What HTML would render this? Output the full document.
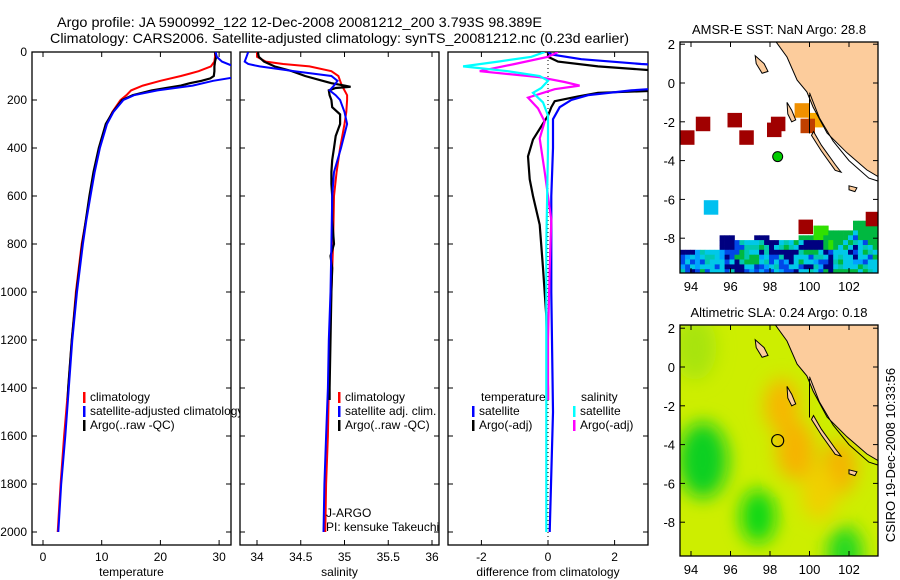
<!DOCTYPE html>
<html><head><meta charset="utf-8"><style>
html,body{margin:0;padding:0;background:#fff;}
svg{display:block;font-family:"Liberation Sans",sans-serif;}
</style></head><body>
<svg id="fig" width="900" height="580" viewBox="0 0 900 580" xmlns="http://www.w3.org/2000/svg">
<defs>
<clipPath id="c1"><rect x="32" y="52" width="199" height="493"/></clipPath>
<clipPath id="c2"><rect x="240" y="52" width="199" height="493"/></clipPath>
<clipPath id="c3"><rect x="448" y="52" width="200" height="493"/></clipPath>
<clipPath id="cm1"><rect x="680" y="42" width="198" height="231"/></clipPath>
<clipPath id="cm2"><rect x="680" y="325" width="198" height="231"/></clipPath>
<filter id="blur" x="-50%" y="-50%" width="200%" height="200%"><feGaussianBlur stdDeviation="9"/></filter>
</defs>
<rect width="900" height="580" fill="#fff"/>
<text x="57" y="27" font-size="14" textLength="485" lengthAdjust="spacingAndGlyphs">Argo profile: JA 5900992_122 12-Dec-2008 20081212_200 3.793S 98.389E</text>
<text x="50" y="43" font-size="14" textLength="579" lengthAdjust="spacingAndGlyphs">Climatology: CARS2006. Satellite-adjusted climatology: synTS_20081212.nc (0.23d earlier)</text>
<g id="plots"></g>
<g id="maps"></g>
<text transform="translate(895,455) rotate(-90)" font-size="13" text-anchor="middle">CSIRO 19-Dec-2008 10:33:56</text>
</svg>
<script>
// ---- temperature panel data ----
const tDepth = [0,20,40,60,80,90,100,120,140,160,180,200,250,300,400,500,600,700,800,1000,1200,1400,1600,1800,2000];
const tClim  = [29.3,29.3,29.2,28.6,26.5,25,23.5,20,17,15,14.2,13.2,11.8,10.8,9.6,8.7,8.0,7.3,6.6,5.6,4.9,4.3,3.6,3.0,2.5];
const tSat   = [29.4,29.6,30.5,32.5,34,34.5,34,29,25.5,19.5,15.5,13.7,12,10.9,9.7,8.8,8.1,7.4,6.8,5.8,5.0,4.4,3.8,3.1,2.6];
const aDepth = [0,20,40,60,80,100,110,120,130,140,150,160,180,200,250,300,400,500,600,700,800,1000,1200,1400,1450];
const tArgo  = [29.3,29.5,29.3,29.2,29.2,29.1,28.5,27,25,23.5,21,18.5,15.3,13.5,11.9,10.7,9.5,8.6,7.9,7.3,6.7,5.7,4.9,4.3,4.2];
// ---- salinity panel data ----
const sDepth = [0,20,40,50,60,80,100,120,140,160,180,200,250,300,400,500,600,800,1000,1200,1400,1600,1800,2000];
const sClim  = [34.0,34.0,34.1,34.3,34.6,34.85,34.93,34.95,34.97,35.0,35.03,35.03,35.02,35.0,34.95,34.91,34.88,34.87,34.85,34.83,34.82,34.81,34.79,34.78];
const sSat   = [33.9,33.88,33.86,33.9,34.03,34.43,34.85,34.92,34.88,34.83,34.9,34.95,35.0,35.03,34.96,34.88,34.86,34.85,34.84,34.82,34.81,34.79,34.77,34.76];
const saDepth = [0,20,40,60,80,100,120,130,140,145,150,160,180,200,230,260,300,350,400,450,500,550,600,700,800,850,900,1000,1200,1400,1450];
const sArgo   = [34.01,34.02,34.08,34.2,34.4,34.55,34.75,34.85,35.0,35.07,34.9,34.82,34.83,34.85,34.86,34.95,34.95,34.9,34.88,34.86,34.85,34.85,34.86,34.86,34.88,34.84,34.86,34.85,34.84,34.83,34.83];
// ---- difference panel data ----
const dtsDepth = [0,10,30,50,55,150,160,180,200,230,280,400,600,1000,1500,2000];
const dtSat    = [0,0.1,1,2.8,3.5,3.5,2.5,1.2,0.7,0.35,0.15,0.15,0.1,0.1,0.15,0.05];
const dtaDepth = [0,20,40,60,75,80,160,170,185,205,230,265,365,435,530,600,720,900,1100,1400,1450];
const dtArgo   = [0,0,0.3,1.5,3,3.5,3.5,1.5,0.9,0.2,0.1,0,-0.45,-0.6,-0.55,-0.45,-0.25,-0.15,-0.05,0,0];
const dssDepth = [0,20,40,60,80,100,120,150,170,210,265,400,800,1200,1600,2000];
const dsSat    = [-0.1,-0.5,-1.5,-2.55,-1.2,-0.25,0,-0.2,-0.45,-0.15,0,0,-0.05,-0.05,-0.05,-0.05];
const dsaDepth = [0,20,50,80,105,125,140,155,190,235,290,360,500,700,900,1200,1450];
const dsArgo   = [0.3,0,-1.0,-2.05,-0.25,0.5,0.95,0.2,-0.6,-0.3,-0.1,-0.25,-0.1,0.1,0.05,0,0];
// ---- tick labels ----
const depthTicks = [0,200,400,600,800,1000,1200,1400,1600,1800,2000];
const tempTicks = [0,10,20,30];
const salTicks = [34,34.5,35,35.5,36];
const salTickLabels = ["34","34.5","35","35.5","36"];
const diffTicks = [-2,0,2];
const lonTicks = [94,96,98,100,102];
const latTicks = [2,0,-2,-4,-6,-8];
// ---- map data ----
const landLon = [98.25,98.86,99.37,99.87,100.18,100.89,101.9,102.9,103.6,103.6];
const landLat = [2.2,1.34,0.15,-0.46,-1.24,-2.58,-3.6,-4.48,-4.9,2.2];
const shelfLon = [100.0,100.5,101.2,102.0,103.0,103.6];
const shelfLat = [-0.5,-1.8,-3.0,-4.0,-4.9,-5.1];
const islands = [
 [[97.25,1.4],[97.7,1.0],[97.9,0.6],[97.6,0.5],[97.3,1.0]],
 [[98.86,-1.0],[99.1,-1.4],[99.3,-1.9],[99.1,-2.0],[98.9,-1.6]],
 [[100.2,-2.5],[100.6,-3.2],[101.3,-4.2],[101.6,-4.6],[101.3,-4.5],[100.6,-3.5],[100.1,-2.7]],
 [[102.0,-5.3],[102.4,-5.4],[102.3,-5.6],[102.0,-5.5]]
];
const sstLon = [93.8,94.6,96.2,96.8,98.2,98.4,99.6,100.3,99.9,95.0,99.8,103.2];
const sstLat = [-2.8,-2.1,-1.9,-2.8,-2.4,-2.1,-1.4,-1.9,-2.2,-6.4,-7.4,-7.0];
const sstCol = ["#a00000","#a00000","#a00000","#a00000","#a00000","#a00000","#f09000","#f8a800","#c04000","#00c0f0","#a00000","#a00000"];
const bandRows = [
"...................................ggggg",
"...........................GGG.....ggggg",
"...........................GGGgggggcgggg",
"........nnn....nnn......gggGGgggggcbgggg",
"........nnnbtccctnnnctcgcnnnngGggcgtcbgg",
"........nnnbbtttgtnctgtcnnnnngGgcgcnctcg",
"nnnltccclbbbgtccntnnnnnntgggcnbcccnbcgtc",
"blclcttclnbggtgglcbbtnncccbttcnctccnccbg",
"bcblbtcccbcntgggctbcblncgcclbbntgccllbcc",
"lbclcccbcnnnnccrblctbbccbnntlnnctcccgtcc",
"tbnbgbcccbtnnblblbbclbbncctcbgngggggcgtc"
];
const bandLat0 = -7.1, bandStep = 0.25, bandLon0 = 93.45, bandLonStep = 0.25;
const slaBlobLon = [94.6,97.4,101.8,94.2,98.6,99.3,101.5,100.5];
const slaBlobLat = [-4.8,-7.7,-9.6,1.0,-2.0,-4.3,-5.2,-6.5];
const slaBlobR   = [1.4,1.0,1.0,1.2,1.0,1.1,1.0,1.0];
const slaBlobCol = ["#10d020","#10d818","#20d820","#a8e410","#f6b800","#f6b400","#f4b400","#f0d000"];
const argoLon = 98.389, argoLat = -3.793;

const NS="http://www.w3.org/2000/svg";
function mk(tag, attrs, parent){const e=document.createElementNS(NS,tag);for(const k in attrs)e.setAttribute(k,attrs[k]);parent.appendChild(e);return e;}
const plots=document.getElementById('plots');
const yD = d => 52 + d*0.24;
const xT = v => 43 + v*5.87;
const xS = v => 257 + (v-34)*87.5;
const xDf = v => 548 + v*33.3;

function axisBox(x0,w,name,xticks,xfn,labels,xtitle){
  const g=mk('g',{},plots);
  
  
  mk('rect',{x:x0,y:52,width:w,height:493,fill:'#fff',stroke:'#000','stroke-width':1.3},g);
  depthTicks.forEach(d=>{
    mk('line',{x1:x0,x2:x0+5,y1:yD(d),y2:yD(d),stroke:'#000'},g);
    mk('line',{x1:x0+w-5,x2:x0+w,y1:yD(d),y2:yD(d),stroke:'#000'},g);
  });
  xticks.forEach((v,i)=>{
    const x=xfn(v);
    mk('line',{x1:x,x2:x,y1:545,y2:540,stroke:'#000'},g);
    mk('line',{x1:x,x2:x,y1:52,y2:57,stroke:'#000'},g);
    const t=mk('text',{x:x,y:561,'font-size':12,'text-anchor':'middle'},g);
    
    
    t.textContent=labels[i];
  });
  const tt=mk('text',{x:x0+w/2,y:576,'font-size':12,'text-anchor':'middle'},g);
  
  
  tt.textContent=xtitle;
  return g;
}
function line(depths,vals,xfn,color,clip,name,w){
  const pts=depths.map((d,i)=>xfn(vals[i]).toFixed(1)+','+yD(d).toFixed(1)).join(' ');
  const p=mk('polyline',{points:pts,fill:'none',stroke:color,'stroke-width':w||2,'clip-path':'url(#'+clip+')'},plots);
  
  
}
function legend(x,y,color,label,name){
  mk('rect',{x:x,y:y-9,width:2.5,height:11,fill:color},plots);
  const t=mk('text',{x:x+7,y:y,'font-size':12},plots);
  
  
  t.textContent=label;
}

// panel 1
axisBox(32,199,'temperature',tempTicks,xT,tempTicks.map(String),'temperature');
depthTicks.forEach(d=>{
  const t=mk('text',{x:27,y:yD(d)+4,'font-size':12,'text-anchor':'end'},plots);
  
  
  t.textContent=String(d);
});
line(tDepth,tClim,xT,'#ff0000','c1','temp-climatology-line');
line(aDepth,tArgo,xT,'#000','c1','temp-argo-line',2.2);
line(tDepth,tSat,xT,'#0000ff','c1','temp-satellite-line');
legend(83,401,'#ff0000','climatology','temp-legend-climatology');
legend(83,415,'#0000ff','satellite-adjusted climatology','temp-legend-satellite');
legend(83,429,'#000','Argo(..raw -QC)','temp-legend-argo');

// panel 2
axisBox(240,199,'salinity',salTicks,xS,salTickLabels,'salinity');
line(sDepth,sClim,xS,'#ff0000','c2','sal-climatology-line');
line(saDepth,sArgo,xS,'#000','c2','sal-argo-line',2.2);
line(sDepth,sSat,xS,'#0000ff','c2','sal-satellite-line');
legend(338,401,'#ff0000','climatology','sal-legend-climatology');
legend(338,415,'#0000ff','satellite adj. clim.','sal-legend-satellite');
legend(338,429,'#000','Argo(..raw -QC)','sal-legend-argo');
[['J-ARGO',517,'float-program-label'],['PI: kensuke Takeuchi',531,'pi-name-label']].forEach(a=>{
  const t=mk('text',{x:326,y:a[1],'font-size':12},plots);
  
  
  t.textContent=a[0];
});

// panel 3
axisBox(448,200,'difference',diffTicks,xDf,diffTicks.map(String),'difference from climatology');
mk('line',{x1:xDf(0),x2:xDf(0),y1:52,y2:545,stroke:'#000','stroke-dasharray':'1,3'},plots);
line(dtaDepth,dtArgo,xDf,'#000','c3','diff-temp-argo-line',2.2);
line(dtsDepth,dtSat,xDf,'#0000ff','c3','diff-temp-satellite-line',2.2);
line(dsaDepth,dsArgo,xDf,'#ff00ff','c3','diff-sal-argo-line',2.2);
line(dssDepth,dsSat,xDf,'#00ffff','c3','diff-sal-satellite-line',2.2);
{const t=mk('text',{x:481,y:401,'font-size':12},plots);t.textContent='temperature';}
{const t=mk('text',{x:581,y:401,'font-size':12},plots);t.textContent='salinity';}
legend(472,415,'#0000ff','satellite','diff-legend-temp-satellite');
legend(472,429,'#000','Argo(-adj)','diff-legend-temp-argo');
legend(573,415,'#00ffff','satellite','diff-legend-sal-satellite');
legend(573,429,'#ff00ff','Argo(-adj)','diff-legend-sal-argo');

// ---- maps ----
const maps=document.getElementById('maps');
const xL = lon => 691 + (lon-94)*19.75;
function mapFrame(top,y0,clip,name,title,drawContent){
  const g=mk('g',{},maps);
  
  
  const yL = lat => y0 - lat*19.4;
  const inner=mk('g',{'clip-path':'url(#'+clip+')'},g);
  drawContent(inner,yL);
  const pts=landLon.map((l,i)=>xL(l).toFixed(1)+','+yL(landLat[i]).toFixed(1)).join(' ');
  const land=mk('polygon',{points:pts,fill:'#fccc9c',stroke:'#000','stroke-width':1},inner);
  
  
  const shelf=mk('polyline',{points:shelfLon.map((l,i)=>xL(l).toFixed(1)+','+yL(shelfLat[i]).toFixed(1)).join(' '),fill:'none',stroke:'#000','stroke-width':1},inner);
  
  
  mk('line',{x1:xL(100),x2:xL(100),y1:yL(-0.6),y2:yL(-2.6),stroke:'#000','stroke-width':1},inner);
  islands.forEach(isl=>{
    const p=mk('polygon',{points:isl.map(q=>xL(q[0]).toFixed(1)+','+yL(q[1]).toFixed(1)).join(' '),fill:'#fccc9c',stroke:'#000','stroke-width':1},inner);
    
    
  });
  mk('rect',{x:680,y:top,width:198,height:231,fill:'none',stroke:'#000','stroke-width':1.3},g);
  latTicks.forEach(l=>{
    const y=yL(l);
    mk('line',{x1:680,x2:685,y1:y,y2:y,stroke:'#000'},g);
    mk('line',{x1:873,x2:878,y1:y,y2:y,stroke:'#000'},g);
    const t=mk('text',{x:675,y:y+5,'font-size':13,'text-anchor':'end'},g);
    
    
    t.textContent=String(l);
  });
  lonTicks.forEach(l=>{
    const x=xL(l);
    mk('line',{x1:x,x2:x,y1:top,y2:top+5,stroke:'#000'},g);
    mk('line',{x1:x,x2:x,y1:top+231,y2:top+226,stroke:'#000'},g);
    const t=mk('text',{x:x,y:top+249,'font-size':13,'text-anchor':'middle'},g);
    
    
    t.textContent=String(l);
  });
  const tt=mk('text',{x:779,y:top-8,'font-size':13,'text-anchor':'middle'},g);
  
  
  tt.textContent=title;
  return yL;
}
const bandColors={n:'#000080',b:'#0048e8',l:'#00a0ff',c:'#00c8e8',t:'#00c8b0',g:'#00b840',G:'#30e000',r:'#0030c0'};
const yL1=mapFrame(42,83,'cm1','sst-map','AMSR-E SST: NaN Argo: 28.8',(g,yL)=>{
  mk('rect',{x:680,y:42,width:198,height:231,fill:'#fff'},g);
  bandRows.forEach((row,ri)=>{
    const latT=bandLat0-ri*bandStep;
    [...row].forEach((ch,ci)=>{
      if(ch==='.')return;
      const lon=bandLon0+ci*bandLonStep;
      const c=mk('rect',{x:xL(lon).toFixed(1),y:yL(latT).toFixed(1),width:(bandLonStep*19.75+0.4).toFixed(2),height:(bandStep*19.4+0.4).toFixed(2),fill:bandColors[ch]},g);
      
      
    });
  });
  sstLon.forEach((lon,i)=>{
    const c=mk('rect',{x:(xL(lon)-7).toFixed(1),y:(yL(sstLat[i])-7).toFixed(1),width:14.5,height:14.5,fill:sstCol[i]},g);
    
    
  });
});
const dot1=mk('circle',{cx:xL(argoLon),cy:yL1(argoLat),r:5,fill:'#00cc00',stroke:'#000','stroke-width':1},maps);



const yL2=mapFrame(325,367,'cm2','sla-map','Altimetric SLA: 0.24 Argo: 0.18',(g,yL)=>{
  mk('rect',{x:680,y:325,width:198,height:231,fill:'#cdee00'},g);
  const bg=mk('g',{filter:'url(#blur)'},g);
  slaBlobLon.forEach((lon,i)=>{
    const e=mk('ellipse',{cx:xL(lon),cy:yL(slaBlobLat[i]),rx:slaBlobR[i]*19.75*0.9,ry:slaBlobR[i]*19.4*1.4,fill:slaBlobCol[i]},bg);
    
    
  });
});
const dot2=mk('circle',{cx:xL(argoLon),cy:yL2(argoLat),r:6,fill:'none',stroke:'#000','stroke-width':1.2},maps);


</script>
</body></html>
